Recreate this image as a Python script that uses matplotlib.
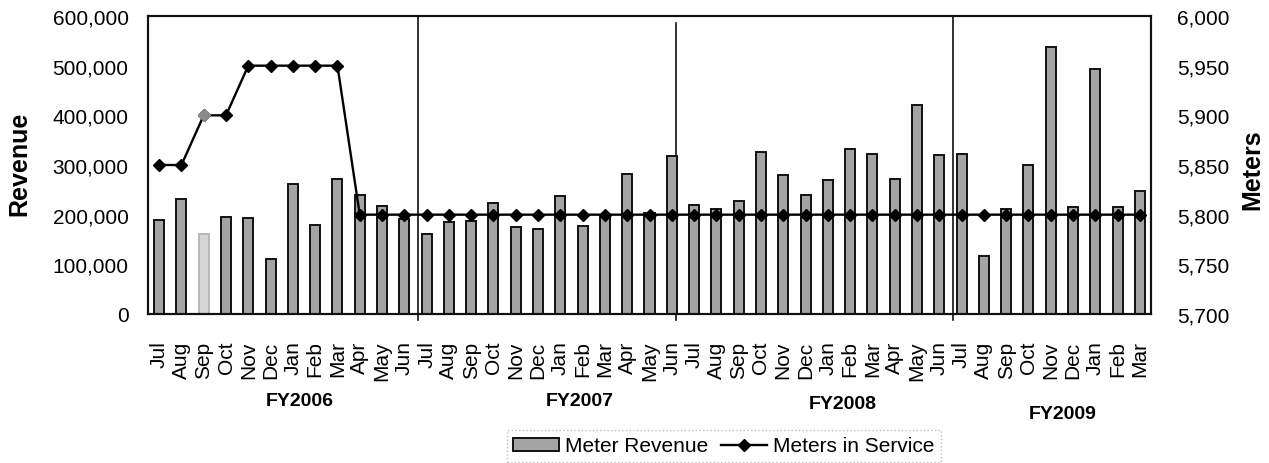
import matplotlib
matplotlib.use('Agg')
import matplotlib.pyplot as plt
from matplotlib.ticker import FuncFormatter, FixedLocator
from matplotlib.lines import Line2D
import numpy as np

plt.rcParams['font.family'] = ['Liberation Sans', 'DejaVu Sans']

# ---------------- data ----------------
months = ['Jul', 'Aug', 'Sep', 'Oct', 'Nov', 'Dec', 'Jan', 'Feb', 'Mar', 'Apr', 'May', 'Jun',
          'Jul', 'Aug', 'Sep', 'Oct', 'Nov', 'Dec', 'Jan', 'Feb', 'Mar', 'Apr', 'May', 'Jun',
          'Jul', 'Aug', 'Sep', 'Oct', 'Nov', 'Dec', 'Jan', 'Feb', 'Mar', 'Apr', 'May', 'Jun',
          'Jul', 'Aug', 'Sep', 'Oct', 'Nov', 'Dec', 'Jan', 'Feb', 'Mar']

meter_revenue = [190000, 231000, 161000, 195000, 193000, 110000, 262000, 179000, 271000, 240000, 217000, 191000,
                 161000, 185000, 188000, 223000, 175000, 172000, 238000, 177000, 199000, 282000, 203000, 318000,
                 219000, 211000, 227000, 327000, 279000, 239000, 269000, 332000, 322000, 272000, 421000, 320000,
                 322000, 117000, 211000, 301000, 537000, 216000, 493000, 216000, 248000]

meters_in_service = [5850, 5850, 5900, 5900, 5950, 5950, 5950, 5950, 5950, 5800, 5800, 5800,
                     5800, 5800, 5800, 5800, 5800, 5800, 5800, 5800, 5800, 5800, 5800, 5800,
                     5800, 5800, 5800, 5800, 5800, 5800, 5800, 5800, 5800, 5800, 5800, 5800,
                     5800, 5800, 5800, 5800, 5800, 5800, 5800, 5800, 5800]

fiscal_years = ['FY2006', 'FY2007', 'FY2008', 'FY2009']
series_names = ['Meter Revenue', 'Meters in Service']

revenue_ticks = [0, 100000, 200000, 300000, 400000, 500000, 600000]
meter_ticks = [5700, 5750, 5800, 5850, 5900, 5950, 6000]

# ---------------- layout / style ----------------
W, H = 1269, 464
fig = plt.figure(figsize=(W / 100, H / 100), dpi=100)
ax = fig.add_axes([148 / W, 1 - 315 / H, 1003 / W, 298 / H])

x = np.arange(len(months))
highlight = 2  # lighter bar / marker in the original
face = ['#d6d6d6' if i == highlight else '#a4a4a4' for i in range(len(months))]
edge = ['#b8b8b8' if i == highlight else '#111111' for i in range(len(months))]
bars = ax.bar(x, meter_revenue, width=0.45, color=face, edgecolor=edge, linewidth=1.4, zorder=2)

ax.set_xlim(-0.5, len(months) - 0.5)
ax.set_ylim(revenue_ticks[0], revenue_ticks[-1])
ax.yaxis.set_major_locator(FixedLocator(revenue_ticks))
ax.yaxis.set_major_formatter(FuncFormatter(lambda v, p: f'{int(v):,}'))
ax.set_xticks(x)
ax.set_xticklabels(months, rotation=90, fontsize=15)
ax.tick_params(axis='x', length=0, pad=19)
ax.tick_params(axis='y', length=0, pad=14, labelsize=15)

for s in ax.spines.values():
    s.set_linewidth(1.5)
    s.set_color('#111111')

# fiscal-year separators
for pos, top in [(11.6, 1.0), (23.2, 0.977), (35.6, 1.0)]:
    ax.axvline(pos, ymin=-0.02, ymax=top, color='#111111', lw=1.2, clip_on=False, zorder=1)

ax2 = ax.twinx()
line, = ax2.plot(x, meters_in_service, color='black', lw=1.7, marker='D', ms=6.3, zorder=3)
ax2.plot(x[highlight], meters_in_service[highlight], 'D', color='#8a8a8a', ms=6.3, zorder=4)
ax2.set_ylim(meter_ticks[0], meter_ticks[-1])
ax2.yaxis.set_major_locator(FixedLocator(meter_ticks))
ax2.yaxis.set_major_formatter(FuncFormatter(lambda v, p: f'{int(v):,}'))
ax2.tick_params(axis='y', length=0, pad=19, labelsize=15)
for s in ax2.spines.values():
    s.set_linewidth(1.5)
    s.set_color('#111111')

fig.text(19 / W, 1 - 164 / H, 'Revenue', rotation=90, ha='center', va='center',
         fontsize=18, fontweight='bold')
fig.text(1252 / W, 1 - 170 / H, 'Meters', rotation=90, ha='center', va='center',
         fontsize=18, fontweight='bold')

fy_pos = [(300, 402), (580, 402), (843, 405), (1063, 415)]
for lab, (px, py) in zip(fiscal_years, fy_pos):
    fig.text(px / W, 1 - py / H, lab, ha='center', va='center', fontsize=14, fontweight='bold')

leg_bar = plt.Rectangle((0, 0), 1, 1, facecolor='#a4a4a4', edgecolor='#111111', linewidth=1.4)
leg_line = Line2D([], [], color='black', lw=1.7, marker='D', ms=6.3)
leg = fig.legend([leg_bar, leg_line], series_names, loc='center',
                 bbox_to_anchor=(724 / W, 1 - 447 / H), ncol=2, fontsize=15,
                 frameon=True, fancybox=False, handlelength=2.2, handleheight=0.6,
                 handletextpad=0.3, columnspacing=0.6, borderpad=0.3)
fr = leg.get_frame()
fr.set_edgecolor('#b0b0b0')
fr.set_linestyle(':')
fr.set_linewidth(1.0)

fig.savefig('out.png', dpi=100)
